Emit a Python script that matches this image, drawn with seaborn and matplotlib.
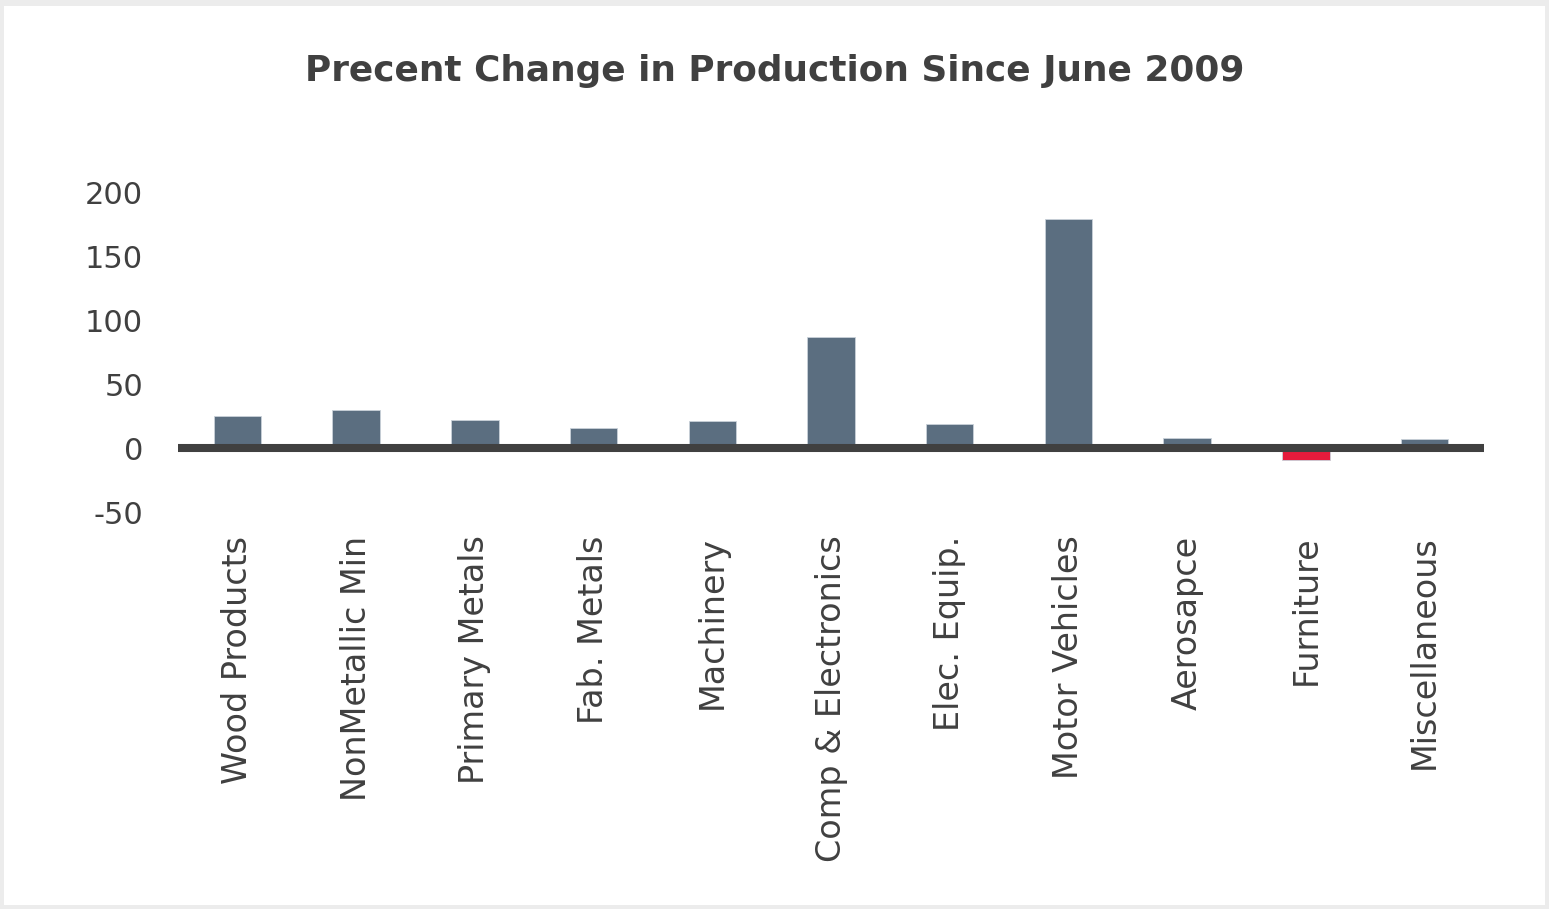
import matplotlib
matplotlib.use("Agg")
import matplotlib.pyplot as plt
import seaborn as sns
import pandas as pd
from matplotlib.patches import Rectangle

# Percent change in production by industry since June 2009
categories = [
    "Wood Products", "NonMetallic Min", "Primary Metals", "Fab. Metals",
    "Machinery", "Comp & Electronics", "Elec. Equip.", "Motor Vehicles",
    "Aerosapce", "Furniture", "Miscellaneous",
]
values = [25, 30, 22, 16, 21, 87, 19, 180, 8, -9, 7]
y_ticks = [-50, 0, 50, 100, 150, 200]

df = pd.DataFrame({"industry": categories, "change": values})
df["sign"] = ["neg" if v < 0 else "pos" for v in values]

sns.set_theme(style="white")
plt.rcParams["font.family"] = ["DejaVu Sans"]

text_color = "#404040"
fig = plt.figure(figsize=(15.49, 9.09), dpi=100)
fig.patch.set_facecolor("#ececec")
# white card on a light grey frame
fig.add_artist(Rectangle((4 / 1549, 4 / 909), 1541 / 1549, 899 / 909,
                         transform=fig.transFigure, facecolor="white",
                         edgecolor="none", zorder=0))

ax = fig.add_axes([178 / 1549, 1 - 512 / 909, 1306 / 1549, 319 / 909])
ax.set_facecolor("none")

sns.barplot(data=df, x="industry", y="change", hue="sign",
            palette={"pos": "#5b6e80", "neg": "#e61b3c"},
            dodge=False, width=0.4, legend=False, ax=ax,
            edgecolor="#c9d1d9", linewidth=0.6, saturation=1)

ax.axhline(0, color="#404040", linewidth=5.8, zorder=5)

ax.set_xlim(-0.5, len(categories) - 0.5)
ax.set_ylim(-50, 200)
ax.set_yticks(y_ticks)
ax.set_yticklabels([str(t) for t in y_ticks])
ax.set_xlabel("")
ax.set_ylabel("")
for s in ax.spines.values():
    s.set_visible(False)
ax.tick_params(axis="y", length=0, pad=25, labelsize=22, labelcolor=text_color)
ax.tick_params(axis="x", length=0, pad=17, labelsize=24, labelcolor=text_color)
plt.setp(ax.get_xticklabels(), rotation=90, va="top", ha="center")

fig.text(0.5, 1 - 71 / 909, "Precent Change in Production Since June 2009",
         ha="center", va="center", fontsize=25.8, fontweight="bold",
         color=text_color)

fig.savefig("out.png", dpi=100)
